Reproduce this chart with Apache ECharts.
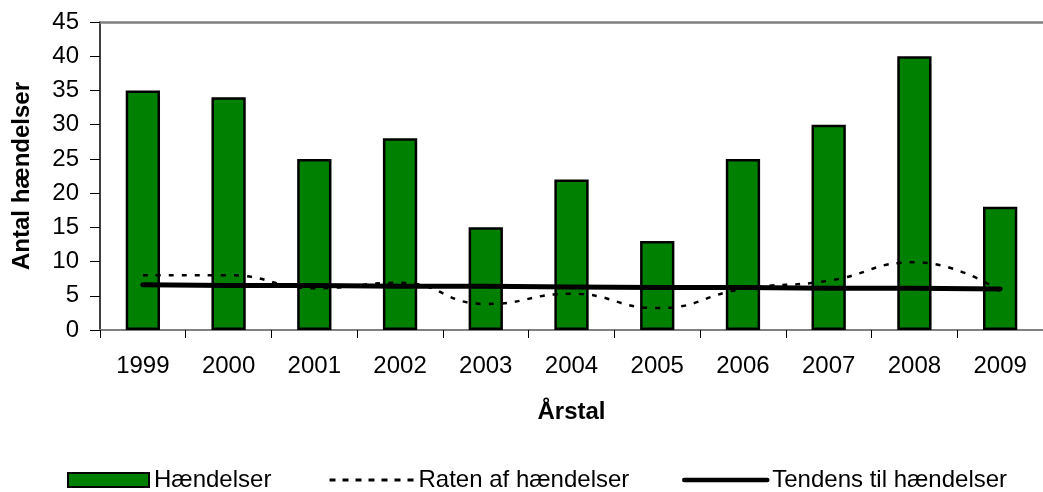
<!DOCTYPE html>
<html>
<head>
<meta charset="utf-8">
<script src="https://cdn.jsdelivr.net/npm/echarts@6/dist/echarts.min.js"></script>
<style>
  html, body { margin: 0; padding: 0; background: #fff; }
  #chart { width: 1043px; height: 492px; }
</style>
</head>
<body>
<div id="chart"></div>
<script>
// årstal
var years = ['1999', '2000', '2001', '2002', '2003', '2004', '2005', '2006', '2007', '2008', '2009']
// antal hændelser (søjler)
var haendelser = [35, 34, 25, 28, 15, 22, 13, 25, 30, 40, 18]
// raten af hændelser (stiplet linje)
var raten = [8, 8, 6.1, 6.9, 3.8, 5.3, 3.2, 6, 7.2, 9.9, 5.7]
// tendens (tyk linje)
var tendens = [6.6, 6.5, 6.5, 6.4, 6.4, 6.3, 6.2, 6.2, 6.1, 6.1, 6.0]

var font = 'Arial, "Liberation Sans", sans-serif'
var legendText = { fontSize: 24, color: '#000', fontFamily: font }
var chart = echarts.init(document.getElementById('chart'))

chart.setOption({
  animation: false,
  textStyle: { fontFamily: font },
  grid: {
    left: 100,
    right: -8,
    top: 22,
    bottom: 162
  },
  legend: [
    {
      data: [{ name: 'Hændelser', icon: 'rect' }],
      left: 62,
      top: 463,
      itemWidth: 81,
      itemHeight: 14,
      textStyle: legendText
    },
    {
      data: [{ name: 'Raten af hændelser', itemStyle: { opacity: 0 } }],
      left: 323,
      top: 463,
      itemWidth: 84,
      itemHeight: 14,
      lineStyle: { width: 3, type: [6, 7] },
      textStyle: legendText
    },
    {
      data: [{ name: 'Tendens til hændelser', itemStyle: { opacity: 0 } }],
      left: 677,
      top: 463,
      itemWidth: 83,
      itemHeight: 14,
      lineStyle: { width: 4.5 },
      textStyle: legendText
    }
  ],
  xAxis: [
    {
      type: 'category',
      data: years,
      name: 'Årstal',
      nameLocation: 'middle',
      nameGap: 70,
      nameTextStyle: { fontSize: 24, fontWeight: 'bold', color: '#000', fontFamily: font },
      axisLine: { lineStyle: { color: '#808080', width: 2 } },
      axisTick: { show: true, length: 8, lineStyle: { color: '#000', width: 1 } },
      axisLabel: { fontSize: 24, color: '#000', margin: 24, fontFamily: font }
    },
    {
      // grå linje i toppen
      type: 'category',
      data: years,
      position: 'top',
      axisLine: { show: true, lineStyle: { color: '#808080', width: 2.5 } },
      axisTick: { show: false },
      axisLabel: { show: false }
    }
  ],
  yAxis: {
    type: 'value',
    min: 0,
    max: 45,
    interval: 5,
    name: 'Antal hændelser',
    nameLocation: 'middle',
    nameGap: 66,
    nameTextStyle: { fontSize: 24, fontWeight: 'bold', color: '#000', fontFamily: font },
    axisLine: { show: true, lineStyle: { color: '#000', width: 1.5 } },
    axisTick: { show: true, length: 10, lineStyle: { color: '#000', width: 1 } },
    axisLabel: { fontSize: 24, color: '#000', margin: 21, fontFamily: font },
    splitLine: { show: false }
  },
  series: [
    {
      name: 'Hændelser',
      type: 'bar',
      data: haendelser,
      barWidth: '40%',
      itemStyle: {
        color: '#008000',
        borderColor: '#000',
        borderWidth: 2.5
      }
    },
    {
      name: 'Raten af hændelser',
      type: 'line',
      data: raten,
      smooth: true,
      symbol: 'none',
      lineStyle: { color: '#000', width: 2.5, type: [5, 8] },
      itemStyle: { color: '#000' },
      z: 3
    },
    {
      name: 'Tendens til hændelser',
      type: 'line',
      data: tendens,
      symbol: 'none',
      lineStyle: { color: '#000', width: 5, cap: 'round' },
      itemStyle: { color: '#000' },
      z: 4
    }
  ]
})
</script>
</body>
</html>
